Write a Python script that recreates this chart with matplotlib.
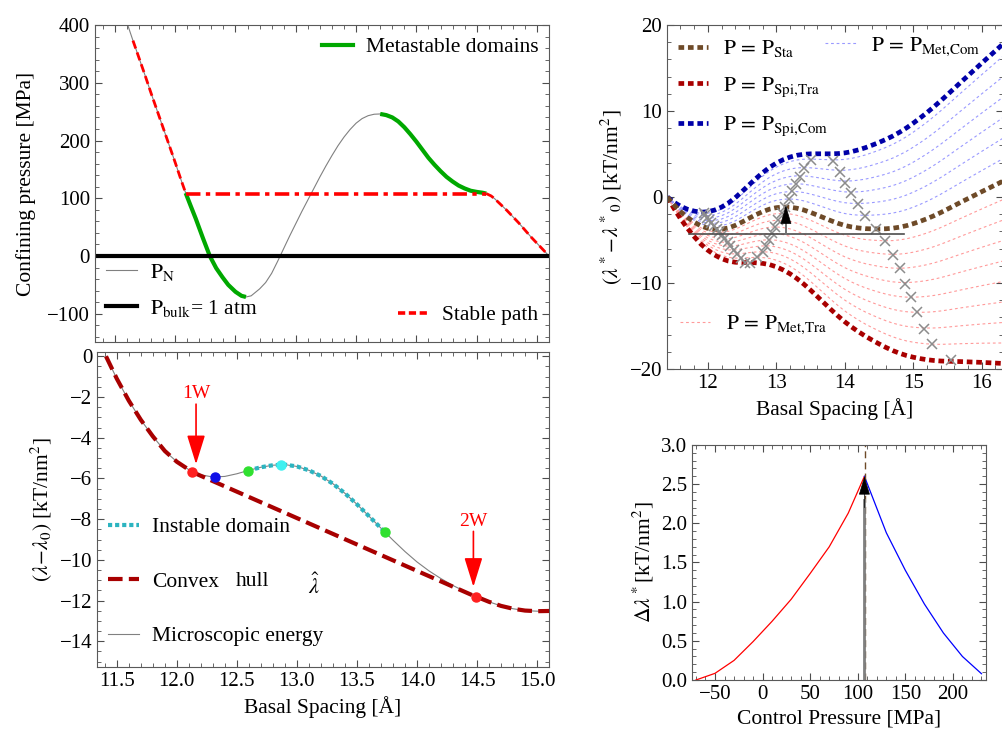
import numpy as np
import matplotlib
matplotlib.use('Agg')
import matplotlib.pyplot as plt
from matplotlib.lines import Line2D
from matplotlib.ticker import MultipleLocator

plt.rcParams.update({
    'font.family': 'serif',
    'font.serif': ['Liberation Serif', 'DejaVu Serif'],
    'mathtext.fontset': 'stix',
    'font.size': 15,
    'axes.edgecolor': '0.35',
    'axes.linewidth': 0.8,
    'xtick.direction': 'in', 'ytick.direction': 'in',
    'xtick.top': True, 'ytick.right': True,
    'xtick.major.size': 5, 'ytick.major.size': 5,
    'xtick.minor.size': 2.8, 'ytick.minor.size': 2.8,
    'xtick.color': '0.3', 'ytick.color': '0.3',
    'xtick.labelcolor': 'black', 'ytick.labelcolor': 'black',
    'xtick.labelsize': 15, 'ytick.labelsize': 15,
})

# ---- top left: normal pressure vs basal spacing
pn_h = [11.55, 11.60, 11.65, 11.70, 11.75, 11.80, 11.85, 11.90, 11.95, 12.00, 12.05,
        12.087, 12.13, 12.17, 12.23, 12.287, 12.34, 12.393, 12.44, 12.50, 12.55, 12.587,
        12.63, 12.70, 12.75, 12.80, 12.85, 12.90, 12.95, 13.00, 13.05, 13.10, 13.15,
        13.20, 13.25, 13.30, 13.35, 13.40, 13.45, 13.50, 13.55, 13.60, 13.65, 13.70,
        13.75, 13.80, 13.85, 13.90, 13.95, 14.00, 14.05, 14.10, 14.15, 14.20, 14.25,
        14.30, 14.35, 14.40, 14.45, 14.50, 14.55, 14.58, 14.62, 14.65, 14.70, 14.75,
        14.80, 14.85, 14.90, 14.95, 15.00, 15.05, 15.10]
pn_p = [434, 404, 373, 343, 313, 282, 252, 222, 192, 162, 131,
        109, 86, 65, 31, 0, -21, -37, -50, -62, -69, -71,
        -69, -57, -46, -30, -9, 13, 35, 56, 77, 97, 117,
        137, 156, 174, 191, 206, 219, 230, 238, 243, 245.5, 246,
        244, 240, 233, 223, 211, 198, 184, 170, 158, 147, 137,
        129, 122, 117, 113, 111, 109.5, 108, 104, 99, 89, 79,
        68, 57, 45, 33, 22, 11, 0]
p_sta = 108.0
plateau_h = [12.087, 14.58]
meta_ranges = [(12.087, 12.587), (13.70, 14.58)]
stable_start = 11.65
p_bulk = 0.1

# ---- bottom left / top right: surface free energy vs basal spacing
lam_h = [11.41, 11.5, 11.6, 11.7, 11.8, 11.9, 12.0, 12.1, 12.2, 12.3, 12.4, 12.5,
         12.6, 12.7, 12.8, 12.9, 13.0, 13.1, 13.2, 13.3, 13.4, 13.5, 13.6, 13.7,
         13.8, 13.9, 14.0, 14.1, 14.2, 14.3, 14.4, 14.5, 14.6, 14.7, 14.8, 14.9,
         15.0, 15.1, 15.2, 15.3, 15.4, 15.5, 15.6, 15.7, 15.8, 15.9, 16.0, 16.1,
         16.2, 16.3]
lam = [0.00, -1.10, -2.18, -3.12, -3.93, -4.65, -5.18, -5.57, -5.82, -5.93, -5.90, -5.77,
       -5.60, -5.45, -5.35, -5.32, -5.41, -5.60, -5.88, -6.26, -6.73, -7.27, -7.85, -8.44,
       -9.03, -9.59, -10.10, -10.54, -10.92, -11.26, -11.55, -11.82, -12.06, -12.26, -12.40, -12.49,
       -12.52, -12.51, -12.47, -12.39, -12.28, -12.14, -11.99, -11.84, -11.70, -11.56, -11.42, -11.29,
       -11.16, -11.03]
tangent_h = [12.13, 14.49]
tangent_lam = [-5.69, -11.81]
dot_h = [12.13, 12.315, 12.593, 12.871, 13.73, 14.49]
dot_lam = [-5.69, -5.94, -5.61, -5.33, -8.62, -11.81]
dot_col = ['#ff2020', '#1010e8', '#30e030', '#40f0f0', '#30e030', '#ff2020']
instable_range = (12.593, 13.73)

# conversion MPa*Angstrom -> kT/nm^2 (T = 298 K)
conv = 0.0243
p_spi_tra = -70.0
p_spi_com = 242.0
p_met_tra = [-50, -30, -10, 10, 30, 50, 70, 90]
p_met_com = [130, 150, 170, 190, 210, 230]

# extrema of the tilted profiles (grey crosses)
min1_h = [11.94, 11.96, 11.99, 12.02, 12.05, 12.09, 12.13, 12.16, 12.20, 12.24,
          12.29, 12.33, 12.38, 12.43, 12.48, 12.54]
min1_y = [-1.89, -2.13, -2.41, -2.71, -3.01, -3.34, -3.72, -4.05, -4.43, -4.84,
          -5.24, -5.68, -6.15, -6.61, -7.10, -7.62]
max_h = [12.62, 12.72, 12.80, 12.845, 12.89, 12.93, 12.98, 13.03, 13.085, 13.13,
         13.19, 13.235, 13.29, 13.34, 13.40, 13.50]
max_y = [-7.62, -7.02, -6.36, -5.68, -4.95, -4.21, -3.48, -2.69, -1.90, -1.13,
         -0.18, 0.72, 1.48, 2.33, 3.43, 4.36]
min2_h = [13.83, 13.93, 14.01, 14.09, 14.19, 14.30, 14.46, 14.59, 14.70, 14.80,
          14.88, 14.97, 15.05, 15.15, 15.27, 15.55]
min2_y = [4.19, 2.91, 1.67, 0.47, -0.85, -2.24, -3.67, -5.10, -6.78, -8.25,
          -10.07, -11.63, -13.37, -15.30, -17.05, -18.95]
ref_level = -4.3
ref_span = [11.73, 14.87]
barrier_h = 13.14
barrier_top = -1.0

# ---- bottom right: barrier height vs control pressure
bar_p_tra = [-70, -50, -30, -10, 10, 30, 50, 70, 90, 107]
bar_tra = [0.0, 0.085, 0.25, 0.49, 0.75, 1.03, 1.36, 1.70, 2.13, 2.60]
bar_p_com = [107, 130, 150, 170, 190, 210, 230]
bar_com = [2.60, 1.88, 1.40, 0.97, 0.60, 0.30, 0.08]

pn_h = np.array(pn_h); pn_p = np.array(pn_p)
lam_h = np.array(lam_h); lam = np.array(lam)

brown = '#6e4a28'
dred = '#a80000'
dblue = '#0000a8'
lred = '#ff9a9a'
lblue = '#9a9aff'
thick = dict(lw=3.4, dash_capstyle='butt', ls=(0, (1.2, 0.8)))

fig = plt.figure(figsize=(10.03, 7.36), dpi=100)
ax1 = fig.add_axes([0.0947, 0.5353, 0.4527, 0.4307])
ax2 = fig.add_axes([0.0967, 0.0938, 0.4507, 0.4279])
ax3 = fig.add_axes([0.665, 0.4986, 0.335, 0.4674])
ax4 = fig.add_axes([0.690, 0.0761, 0.293, 0.3193])

# ---------------- top left
ax1.plot(pn_h, pn_p, color='0.5', lw=0.8)
for a, b in meta_ranges:
    m = (pn_h >= a) & (pn_h <= b)
    ax1.plot(pn_h[m], pn_p[m], color='#00a800', lw=3, solid_capstyle='butt')
m = (pn_h >= stable_start) & (pn_h <= plateau_h[0])
ax1.plot(pn_h[m], pn_p[m], color='red', lw=2.0, ls=(0, (3, 1.5)))
ax1.plot(plateau_h, [p_sta, p_sta], color='red', lw=2.6, ls=(0, (4, 1.5, 1.2, 1.5)))
m = pn_h >= plateau_h[1]
ax1.plot(pn_h[m], pn_p[m], color='red', lw=2.0, ls=(0, (3, 1.5)))
ax1.axhline(p_bulk, color='black', lw=3)
ax1.set_xlim(11.335, 15.10)
ax1.set_ylim(-149, 400)
ax1.xaxis.set_major_locator(MultipleLocator(0.5))
ax1.xaxis.set_minor_locator(MultipleLocator(0.1))
ax1.yaxis.set_major_locator(MultipleLocator(100))
ax1.yaxis.set_minor_locator(MultipleLocator(20))
ax1.tick_params(labelbottom=False)
ax1.set_ylabel('Confining pressure [MPa]', fontsize=15.5, labelpad=8)

lg_kw = dict(frameon=False, fontsize=15.5, handlelength=1.45, handletextpad=0.6)
l1 = ax1.legend(handles=[Line2D([], [], color='#00a800', lw=3)], labels=['Metastable domains'],
                loc='center right', bbox_to_anchor=(1.0, 0.93), borderaxespad=0.1, **lg_kw)
ax1.add_artist(l1)
l2 = ax1.legend(handles=[Line2D([], [], color='0.5', lw=0.8), Line2D([], [], color='black', lw=3)],
                labels=[r'$\mathrm{P_N}$', r'$\mathrm{P_{bulk}}$= 1 atm'],
                loc='center left', bbox_to_anchor=(0.0, 0.163), borderaxespad=0.1,
                labelspacing=0.7, **lg_kw)
ax1.add_artist(l2)
ax1.legend(handles=[Line2D([], [], color='red', lw=2.6, ls=(0, (2, 1)))], labels=['Stable path'],
           loc='center right', bbox_to_anchor=(1.0, 0.084), borderaxespad=0.1, **lg_kw)

# ---------------- bottom left
ax2.plot(lam_h, lam, color='0.5', lw=0.8, zorder=2)
m1 = lam_h < tangent_h[0]
m2 = lam_h > tangent_h[1]
hull_h = np.concatenate([lam_h[m1], tangent_h, lam_h[m2]])
hull_l = np.concatenate([lam[m1], tangent_lam, lam[m2]])
ax2.plot(hull_h, hull_l, color=dred, lw=3, ls=(0, (3.5, 1.5)), zorder=3)
mi = (lam_h > instable_range[0]) & (lam_h < instable_range[1])
ins_h = np.concatenate([[dot_h[2]], lam_h[mi], [dot_h[4]]])
ins_l = np.concatenate([[dot_lam[2]], lam[mi], [dot_lam[4]]])
ax2.plot(ins_h, ins_l, color='#2cb4c0', lw=3, ls=(0, (1.0, 0.7)), zorder=3)
for h, l, c in zip(dot_h, dot_lam, dot_col):
    ax2.plot(h, l, 'o', color=c, ms=6.5, zorder=5)
for name, h, y0, y1 in [('1W', 12.16, -2.35, -5.30), ('2W', 14.47, -8.6, -11.32)]:
    ax2.annotate('', xy=(h, y1), xytext=(h, y0),
                 arrowprops=dict(arrowstyle='-|>,head_length=0.9,head_width=0.28', color='red',
                                 lw=1.2, mutation_scale=20, shrinkA=0, shrinkB=0))
    ax2.text(h, y0 + 0.5, name, color='red', ha='center', va='center', fontsize=14)
ax2.set_xlim(11.335, 15.10)
ax2.set_ylim(-15.26, 0.21)
ax2.xaxis.set_major_locator(MultipleLocator(0.5))
ax2.xaxis.set_minor_locator(MultipleLocator(0.1))
ax2.yaxis.set_major_locator(MultipleLocator(2))
ax2.yaxis.set_minor_locator(MultipleLocator(0.5))
ax2.xaxis.set_major_formatter(lambda v, pos: f'{v:.1f}')
ax2.set_xlabel('Basal Spacing [Å]', fontsize=15.5)
ax2.set_ylabel(r'$(\lambda\!-\!\lambda_0)$ [kT/nm$^2$]', fontsize=15.5)
ax2.legend(handles=[Line2D([], [], color='#2cb4c0', lw=3, ls=(0, (1.0, 0.7))),
                    Line2D([], [], color=dred, lw=3, ls=(0, (3.5, 1.5))),
                    Line2D([], [], color='0.5', lw=0.8)],
           labels=['Instable domain', 'Convex', 'Microscopic energy'],
           loc='center left', bbox_to_anchor=(0.0, 0.27), borderaxespad=0.1,
           labelspacing=1.6, **lg_kw)
ax2.text(12.63, -11.07, 'hull', fontsize=15.5, ha='center', va='center')
ax2.text(13.14, -11.3, r'$\hat{\lambda}$', fontsize=16, ha='center', va='center')

# ---------------- top right
dh = lam_h - lam_h[0]
for p in p_met_tra:
    ax3.plot(lam_h, lam + conv * p * dh, color=lred, lw=0.8, ls=(0, (2.5, 2.5)))
for p in p_met_com:
    ax3.plot(lam_h, lam + conv * p * dh, color=lblue, lw=0.8, ls=(0, (2.5, 2.5)))
ax3.plot(lam_h, lam + conv * p_spi_tra * dh, color=dred, **thick)
ax3.plot(lam_h, lam + conv * p_spi_com * dh, color=dblue, **thick)
ax3.plot(lam_h, lam + conv * p_sta * dh, color=brown, **thick)
for hh, yy in [(min1_h, min1_y), (max_h, max_y), (min2_h, min2_y)]:
    ax3.plot(hh, yy, ls='none', marker='x', color='0.55', ms=7, mew=1.1)
ax3.plot(ref_span, [ref_level, ref_level], color='0.3', lw=1.2)
ax3.plot([barrier_h, barrier_h], [ref_level, barrier_top - 0.9], color='0.45', lw=1.4)
ax3.annotate('', xy=(barrier_h, barrier_top), xytext=(barrier_h, barrier_top - 1.6),
             arrowprops=dict(arrowstyle='-|>,head_length=0.6,head_width=0.18', color='black',
                             lw=0.5, mutation_scale=20, shrinkA=0, shrinkB=0))
ax3.set_xlim(11.404, 16.31)
ax3.set_ylim(-20, 20)
ax3.xaxis.set_major_locator(MultipleLocator(1))
ax3.xaxis.set_minor_locator(MultipleLocator(0.2))
ax3.yaxis.set_major_locator(MultipleLocator(10))
ax3.yaxis.set_minor_locator(MultipleLocator(2))
ax3.spines['right'].set_visible(False)
ax3.set_xlabel('Basal Spacing [Å]', fontsize=15.5)
ax3.set_ylabel(r'$(\lambda^*\!-\!\lambda^*{}_0)$ [kT/nm$^2$]', fontsize=15.5)
lg3 = dict(frameon=False, fontsize=15.5, handlelength=1.4, handletextpad=0.7)
t1 = ax3.legend(handles=[Line2D([], [], color=brown, **thick),
                         Line2D([], [], color=dred, **thick),
                         Line2D([], [], color=dblue, **thick)],
                labels=[r'$\mathrm{P\,=\,P_{Sta}}$', r'$\mathrm{P\,=\,P_{Spi{,}Tra}}$',
                        r'$\mathrm{P\,=\,P_{Spi{,}Com}}$'],
                loc='center left', bbox_to_anchor=(0.0, 0.816), borderaxespad=0.1,
                labelspacing=0.75, **lg3)
ax3.add_artist(t1)
t2 = ax3.legend(handles=[Line2D([], [], color=lblue, lw=0.8, ls=(0, (2.5, 2.5)))],
                labels=[r'$\mathrm{P\,=\,P_{Met{,}Com}}$'],
                loc='center left', bbox_to_anchor=(0.446, 0.937), borderaxespad=0.0, **lg3)
ax3.add_artist(t2)
ax3.legend(handles=[Line2D([], [], color=lred, lw=0.8, ls=(0, (2.5, 2.5)))],
           labels=[r'$\mathrm{P\,=\,P_{Met{,}Tra}}$'],
           loc='center left', bbox_to_anchor=(0.014, 0.128), borderaxespad=0.0, **lg3)

# ---------------- bottom right
ax4.plot(bar_p_tra, bar_tra, color='red', lw=0.9)
ax4.plot(bar_p_com, bar_com, color='blue', lw=0.9)
ax4.axvline(p_sta, color=brown, lw=1, ls=(0, (5, 3)))
ax4.plot([bar_p_tra[-1], bar_p_tra[-1]], [0, bar_tra[-1] - 0.3], color='0.5', lw=2)
ax4.annotate('', xy=(bar_p_tra[-1], bar_tra[-1]), xytext=(bar_p_tra[-1], bar_tra[-1] - 0.4),
             arrowprops=dict(arrowstyle='-|>,head_length=0.6,head_width=0.18', color='black',
                             lw=0.5, mutation_scale=20, shrinkA=0, shrinkB=0))
ax4.set_xlim(-74.1, 234.7)
ax4.set_ylim(0, 3)
ax4.xaxis.set_major_locator(MultipleLocator(50))
ax4.xaxis.set_minor_locator(MultipleLocator(10))
ax4.yaxis.set_major_locator(MultipleLocator(0.5))
ax4.yaxis.set_minor_locator(MultipleLocator(0.1))
ax4.yaxis.set_major_formatter(lambda v, pos: f'{v:.1f}')
ax4.set_xlabel('Control Pressure [MPa]', fontsize=15.5)
ax4.set_ylabel(r'$\Delta\lambda^*$[kT/nm$^2$]', fontsize=15.5)

fig.savefig('out.png', dpi=100)
